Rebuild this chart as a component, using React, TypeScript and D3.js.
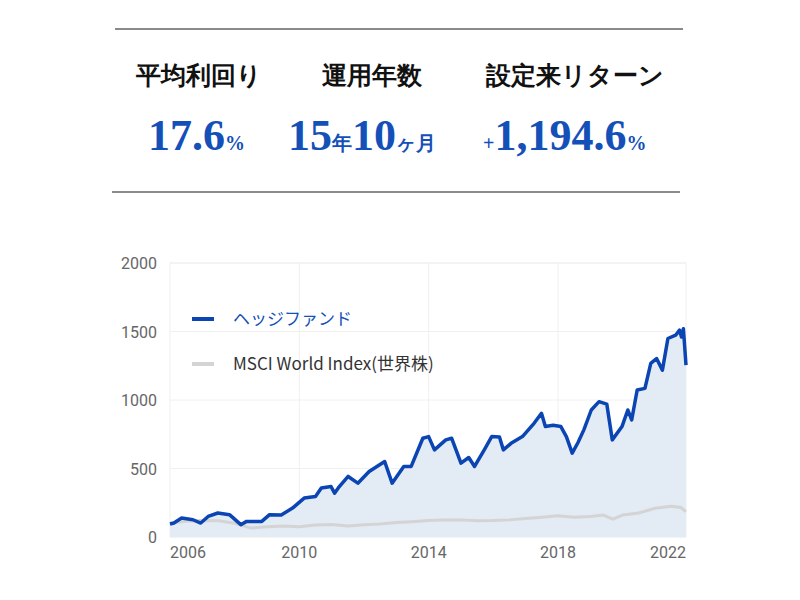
import * as d3 from 'd3'
import React, { useEffect, useRef } from 'react'

const headLabels = ['平均利回り', '運用年数', '設定来リターン']
const yTicks = [0, 500, 1000, 1500, 2000]
const xTickYears = [2006, 2010, 2014, 2018, 2022]

const hedgeYears = [2006.0, 2006.12, 2006.36, 2006.71, 2006.95, 2007.18, 2007.48, 2007.84, 2008.19, 2008.37, 2008.84, 2009.08, 2009.44, 2009.79, 2010.15, 2010.5, 2010.68, 2010.98, 2011.09, 2011.21, 2011.51, 2011.81, 2012.16, 2012.64, 2012.87, 2013.23, 2013.46, 2013.82, 2014.0, 2014.18, 2014.53, 2014.71, 2015.0, 2015.24, 2015.42, 2015.72, 2015.95, 2016.19, 2016.31, 2016.55, 2016.9, 2017.26, 2017.49, 2017.61, 2017.85, 2018.09, 2018.26, 2018.44, 2018.62, 2018.8, 2019.03, 2019.27, 2019.51, 2019.68, 2019.98, 2020.16, 2020.28, 2020.45, 2020.69, 2020.87, 2021.05, 2021.23, 2021.4, 2021.64, 2021.76, 2021.82, 2021.88, 2021.96]
const hedgeValues = [95, 102, 138, 126, 102, 150, 175, 163, 90, 114, 114, 163, 160, 211, 284, 296, 357, 369, 320, 360, 442, 393, 478, 551, 393, 515, 515, 721, 733, 636, 709, 721, 539, 580, 515, 636, 733, 730, 636, 684, 733, 830, 903, 806, 815, 806, 733, 612, 690, 782, 927, 988, 970, 709, 806, 927, 855, 1073, 1085, 1267, 1303, 1218, 1449, 1473, 1510, 1460, 1520, 1255]

const msciYears = [2006.0, 2006.5, 2007.0, 2007.5, 2008.0, 2008.5, 2009.0, 2009.5, 2010.0, 2010.5, 2011.0, 2011.5, 2012.0, 2012.5, 2013.0, 2013.5, 2014.0, 2014.5, 2015.0, 2015.5, 2016.0, 2016.5, 2017.0, 2017.5, 2018.0, 2018.5, 2019.0, 2019.4, 2019.7, 2020.0, 2020.5, 2021.0, 2021.5, 2021.8, 2021.96]
const msciValues = [100, 115, 120, 118, 100, 65, 75, 80, 75, 88, 92, 80, 90, 95, 105, 112, 120, 125, 125, 118, 120, 125, 135, 145, 155, 145, 150, 160, 130, 160, 175, 210, 225, 215, 185]

const App = () => {
  const ref = useRef<SVGSVGElement>(null)

  useEffect(() => {
    const svg = d3.select(ref.current)
    svg.selectAll('*').remove()
    const x = d3.scaleLinear().domain([2006, 2021.96]).range([170, 686])
    const y = d3.scaleLinear().domain([0, 2000]).range([537, 263])

    // header
    svg.append('line').attr('x1', 115).attr('x2', 683).attr('y1', 29).attr('y2', 29).attr('stroke', '#8a8a8a').attr('stroke-width', 2)
    svg.append('line').attr('x1', 112).attr('x2', 680).attr('y1', 192).attr('y2', 192).attr('stroke', '#8a8a8a').attr('stroke-width', 2)
    const headX = [199, 372, 575]
    headLabels.forEach((t, i) => {
      svg.append('text').attr('x', headX[i]).attr('y', 84).attr('text-anchor', 'middle')
        .attr('font-family', 'serif').attr('font-weight', 'bold').attr('font-size', 25).attr('fill', '#111').text(t)
    })
    const blue = '#1450b8'
    const big = (x0: number, parts: [string, number][]) => {
      const t = svg.append('text').attr('x', x0).attr('y', 150).attr('font-family', '"Liberation Serif", serif')
        .attr('font-weight', 'bold').attr('fill', blue)
      parts.forEach(([s, fs]) => t.append('tspan').attr('font-size', fs).text(s))
    }
    big(148, [['17.6', 44], ['%', 20]])
    big(288, [['15', 44], ['年', 20], ['10', 44], ['ヶ月', 20]])
    big(483, [['+', 20], ['1,194.6', 44], ['%', 20]])

    // grid
    svg.append('rect').attr('x', 170).attr('y', 263).attr('width', 516).attr('height', 274).attr('fill', 'none').attr('stroke', '#f0f0f0')
    yTicks.forEach(v => {
      svg.append('line').attr('x1', 170).attr('x2', 686).attr('y1', y(v)).attr('y2', y(v)).attr('stroke', '#f0f0f0')
      svg.append('text').attr('x', 157).attr('y', y(v) + 6).attr('text-anchor', 'end').attr('font-family', 'Roboto, sans-serif')
        .attr('font-size', 16).attr('fill', '#666').text(v)
    })
    xTickYears.forEach((yr, i) => {
      if (i > 0 && i < xTickYears.length - 1)
        svg.append('line').attr('x1', x(yr)).attr('x2', x(yr)).attr('y1', 263).attr('y2', 537).attr('stroke', '#f0f0f0')
      const anchor = i === 0 ? 'start' : i === xTickYears.length - 1 ? 'end' : 'middle'
      const px = i === 0 ? 170 : i === xTickYears.length - 1 ? 686 : x(yr)
      svg.append('text').attr('x', px).attr('y', 558).attr('text-anchor', anchor).attr('font-family', 'Roboto, sans-serif')
        .attr('font-size', 16).attr('fill', '#666').text(yr)
    })

    const hedge = hedgeYears.map((t, i) => [t, hedgeValues[i]] as [number, number])
    const msci = msciYears.map((t, i) => [t, msciValues[i]] as [number, number])
    const area = d3.area<[number, number]>().x(d => x(d[0])).y0(y(0)).y1(d => y(d[1]))
    const line = d3.line<[number, number]>().x(d => x(d[0])).y(d => y(d[1]))
    svg.append('path').attr('d', area(hedge)).attr('fill', '#e3ebf5')
    svg.append('path').attr('d', line(msci)).attr('fill', 'none').attr('stroke', '#d4d4d4').attr('stroke-width', 3)
    svg.append('path').attr('d', line(hedge)).attr('fill', 'none').attr('stroke', '#0b45b3').attr('stroke-width', 3.5).attr('stroke-linejoin', 'round')

    // legend
    svg.append('line').attr('x1', 192).attr('x2', 214).attr('y1', 319).attr('y2', 319).attr('stroke', '#0b45b3').attr('stroke-width', 4)
    svg.append('text').attr('x', 233).attr('y', 325).attr('font-family', '"Noto Sans CJK JP", sans-serif').attr('font-size', 17).attr('fill', '#1450b8').text('ヘッジファンド')
    svg.append('line').attr('x1', 192).attr('x2', 214).attr('y1', 364).attr('y2', 364).attr('stroke', '#d4d4d4').attr('stroke-width', 4)
    svg.append('text').attr('x', 233).attr('y', 370).attr('font-family', '"Noto Sans CJK JP", sans-serif').attr('font-size', 17).attr('fill', '#333').text('MSCI World Index(世界株)')
  }, [])

  return <svg ref={ref} width={800} height={600} style={{ position: 'absolute', left: 0, top: 0, background: '#fff' }}></svg>
}

export default App
